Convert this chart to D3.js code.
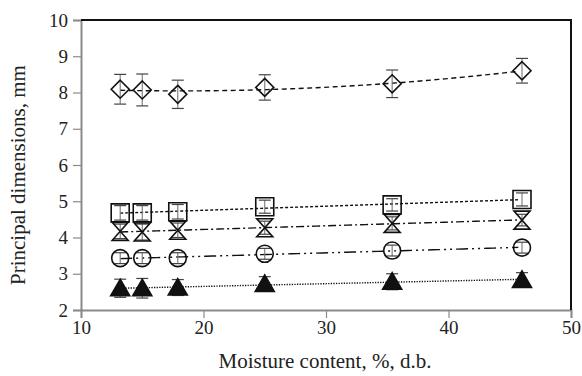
<!DOCTYPE html>
<html>
<head>
<meta charset="utf-8">
<script src="https://cdn.jsdelivr.net/npm/d3@7"></script>
<style>
  html, body { margin: 0; padding: 0; background: #fff; }
  #chart text { font-family: 'Liberation Serif', 'Times New Roman', serif; fill: #222; }
</style>
</head>
<body>
<svg id="chart" width="582" height="376">
  <text id="xtitle" x="325" y="368" text-anchor="middle" font-size="21">Moisture content, %, d.b.</text>
  <text id="ytitle" transform="translate(25,175) rotate(-90)" text-anchor="middle" font-size="21">Principal dimensions, mm</text>
</svg>
<script>
// data
const moisture = [13.2, 15, 17.9, 25, 35.4, 46];
const lengthMm = [8.09, 8.07, 7.95, 8.14, 8.24, 8.6];
const lengthErr = [0.41, 0.44, 0.39, 0.35, 0.38, 0.34];
const widthMm = [4.68, 4.68, 4.71, 4.85, 4.9, 5.05];
const widthErr = [0.2, 0.2, 0.2, 0.18, 0.17, 0.18];
const geoMm = [4.17, 4.15, 4.2, 4.27, 4.39, 4.48];
const geoErr = [0.2, 0.22, 0.2, 0.18, 0.18, 0.16];
const ariMm = [3.43, 3.43, 3.43, 3.55, 3.64, 3.72];
const ariErr = [0.15, 0.15, 0.15, 0.15, 0.15, 0.15];
const thickMm = [2.6, 2.6, 2.62, 2.72, 2.78, 2.83];
const thickErr = [0.25, 0.27, 0.22, 0.2, 0.22, 0.2];
const xTicks = [10, 20, 30, 40, 50];
const yTicks = [2, 3, 4, 5, 6, 7, 8, 9, 10];

const W = 582, H = 376;
const margin = { top: 20, right: 11, bottom: 66, left: 81 };
const width = W - margin.left - margin.right;
const height = H - margin.top - margin.bottom;

const svg = d3.select('#chart');
const g = svg.append('g').attr('transform', `translate(${margin.left},${margin.top})`);

const x = d3.scaleLinear().domain([10, 50]).range([0, width]);
const y = d3.scaleLinear().domain([2, 10]).range([height, 0]);

// least squares polynomial fit (trend lines)
function polyfit(xs, ys, deg) {
  const n = deg + 1;
  const A = Array.from({ length: n }, () => new Array(n + 1).fill(0));
  for (let r = 0; r < n; r++) {
    for (let c = 0; c < n; c++) A[r][c] = d3.sum(xs, v => Math.pow(v, r + c));
    A[r][n] = d3.sum(xs, (v, i) => ys[i] * Math.pow(v, r));
  }
  for (let i = 0; i < n; i++) {
    for (let k = i + 1; k < n; k++) {
      const f = A[k][i] / A[i][i];
      for (let j = i; j <= n; j++) A[k][j] -= f * A[i][j];
    }
  }
  const coef = new Array(n).fill(0);
  for (let i = n - 1; i >= 0; i--) {
    let s = A[i][n];
    for (let j = i + 1; j < n; j++) s -= A[i][j] * coef[j];
    coef[i] = s / A[i][i];
  }
  return v => coef.reduce((acc, c, i) => acc + c * Math.pow(v, i), 0);
}

const series = [
  { vals: lengthMm, err: lengthErr, shape: 'diamond', dash: '5,3.5', deg: 2 },
  { vals: widthMm, err: widthErr, shape: 'square', dash: '3,2', deg: 1 },
  { vals: geoMm, err: geoErr, shape: 'hourglass', dash: '8,3,2,3', deg: 1 },
  { vals: ariMm, err: ariErr, shape: 'circle', dash: '12,4,2,4,2,4', deg: 1 },
  { vals: thickMm, err: thickErr, shape: 'triangle', dash: '1.3,1.3', deg: 1 }
];

// axes (left and bottom, gray)
const xAxis = g.append('g')
  .attr('transform', `translate(0,${height})`)
  .call(d3.axisBottom(x).tickValues(xTicks).tickSize(8).tickPadding(3));
const yAxis = g.append('g')
  .call(d3.axisLeft(y).tickValues(yTicks).tickSize(8).tickPadding(5));
[xAxis, yAxis].forEach(a => {
  a.attr('font-family', null).attr('font-size', 19);
  a.select('.domain').attr('stroke', '#8a8a8a').attr('stroke-width', 2);
  a.selectAll('.tick line').attr('stroke', '#8a8a8a').attr('stroke-width', 1.2);
});

// top and right frame, black
g.append('path')
  .attr('d', `M0,0H${width}V${height}`)
  .attr('fill', 'none').attr('stroke', '#111').attr('stroke-width', 2);

// trend lines
series.forEach(s => {
  const f = polyfit(moisture, s.vals, s.deg);
  const xs = d3.range(moisture[0], moisture[moisture.length - 1] + 0.01, 0.5);
  g.append('path')
    .datum(xs)
    .attr('d', d3.line().x(d => x(d)).y(d => y(f(d))))
    .attr('fill', 'none').attr('stroke', '#111')
    .attr('stroke-width', 1.4).attr('stroke-dasharray', s.dash);
});

// error bars
series.forEach(s => {
  const eb = g.append('g');
  moisture.forEach((m, i) => {
    const cx = x(m), t = y(s.vals[i] + s.err[i]), b = y(s.vals[i] - s.err[i]);
    eb.append('line').attr('x1', cx).attr('x2', cx).attr('y1', t).attr('y2', b)
      .attr('stroke', '#777').attr('stroke-width', 1.1);
    [t, b].forEach(yy => eb.append('line')
      .attr('x1', cx - 6).attr('x2', cx + 6).attr('y1', yy).attr('y2', yy)
      .attr('stroke', '#444').attr('stroke-width', 1.2));
  });
});

// markers
const shapes = {
  diamond: 'M0,-9L9,0L0,9L-9,0Z',
  square: 'M-9,-9H9V9H-9Z',
  hourglass: 'M-8,-9H8L-8,9H8Z',
  triangle: 'M0,-9L9.5,7.5H-9.5Z'
};
series.forEach(s => {
  const mk = g.append('g');
  moisture.forEach((m, i) => {
    const cx = x(m), cy = y(s.vals[i]);
    if (s.shape === 'circle') {
      mk.append('circle').attr('cx', cx).attr('cy', cy).attr('r', 8.5)
        .attr('fill', 'none').attr('stroke', '#111').attr('stroke-width', 1.6);
    } else {
      mk.append('path').attr('d', shapes[s.shape])
        .attr('transform', `translate(${cx},${cy})`)
        .attr('fill', s.shape === 'triangle' ? '#111' : 'none')
        .attr('stroke', '#111').attr('stroke-width', 1.6);
    }
  });
});
</script>
</body>
</html>
